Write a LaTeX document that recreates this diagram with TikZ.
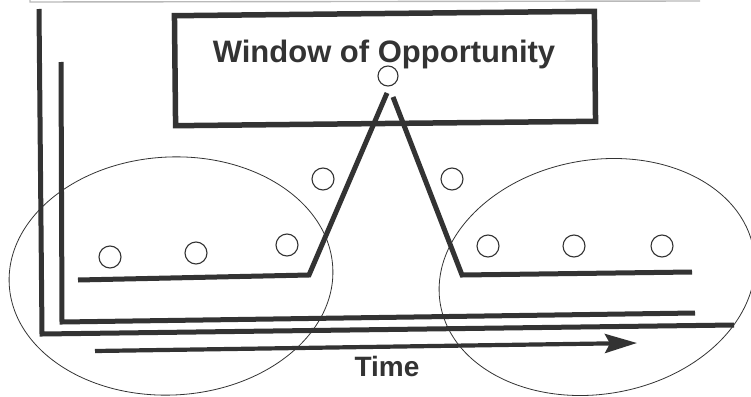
\documentclass[tikz,border=0pt]{standalone}
\usepackage{fontspec}
\setmainfont{Liberation Sans}
\usetikzlibrary{shapes.geometric,arrows.meta}
\definecolor{ink}{HTML}{333333}
\begin{document}
\begin{tikzpicture}[x=1pt,y=-1pt]
    % Style definitions for the dots, zones and heavy strokes
    \tikzset{dot/.style={circle, draw=ink, line width=1.1pt, minimum size=22pt, inner sep=0pt},
             zone/.style={ellipse, draw=ink, line width=0.8pt, inner sep=0pt},
             heavy/.style={draw=ink, line width=5pt, line join=miter, line cap=butt},
             label/.style={text=ink, font=\bfseries, anchor=base}}
    \tikzstyle{arrow} = [draw=ink, line width=4.2pt, -{Stealth[length=32pt,width=19pt,inset=5pt]}]

    \useasboundingbox (0,0) rectangle (751,396);

    % Edge of the scan at the top
    \draw [gray!55, line width=1.4pt] (30,0) -- (30,2) -- (700,1);

    % The window box and its title
    \node (window) [rectangle, draw=ink, line width=5.5pt, minimum width=420pt,
                    minimum height=110pt, rotate=0.6] at (385,68.5) {};
    \node (title) [label] at (384,63) {\fontsize{31}{31}\selectfont Window of Opportunity};

    % Zones before and after
    \node (zoneL) [zone, minimum width=324pt, minimum height=238pt, rotate=3] at (171,276) {};
    \node (zoneR) [zone, minimum width=318pt, minimum height=234pt, rotate=10] at (597,277) {};

    % Axes
    \coordinate (outerTop) at (39,9);
    \coordinate (outerCorner) at (42,334);
    \coordinate (outerEnd) at (734,325);
    \coordinate (innerTop) at (61,62);
    \coordinate (innerCorner) at (62,322);
    \coordinate (innerEnd) at (695,313);
    \draw [heavy] (outerTop) -- (outerCorner) -- (outerEnd);
    \draw [heavy] (innerTop) -- (innerCorner) -- (innerEnd);

    % Level line with the peak
    \coordinate (baseL) at (78,280);
    \coordinate (riseL) at (309,275);
    \coordinate (peakL) at (387,93);
    \coordinate (peakR) at (393,97);
    \coordinate (fallR) at (462,275);
    \coordinate (baseR) at (692,272);
    \draw [heavy] (baseL) -- (riseL) -- (peakL);
    \draw [heavy] (peakR) -- (fallR) -- (baseR);

    % Dots
    \node (dotL1) [dot] at (110,257) {};
    \node (dotL2) [dot] at (196,253) {};
    \node (dotL3) [dot] at (287,245) {};
    \node (dotUpL) [dot] at (323,179) {};
    \node (dotTop) [dot, minimum size=20pt] at (388,76) {};
    \node (dotUpR) [dot] at (452,179) {};
    \node (dotR1) [dot] at (488,246) {};
    \node (dotR2) [dot] at (574,246) {};
    \node (dotR3) [dot] at (662,246) {};

    % Time arrow
    \coordinate (timeStart) at (95,351);
    \coordinate (timeEnd) at (637,343);
    \draw [arrow] (timeStart) -- (timeEnd);
    \node (time) [label] at (387,376) {\fontsize{28}{28}\selectfont Time};

\end{tikzpicture}
\end{document}
